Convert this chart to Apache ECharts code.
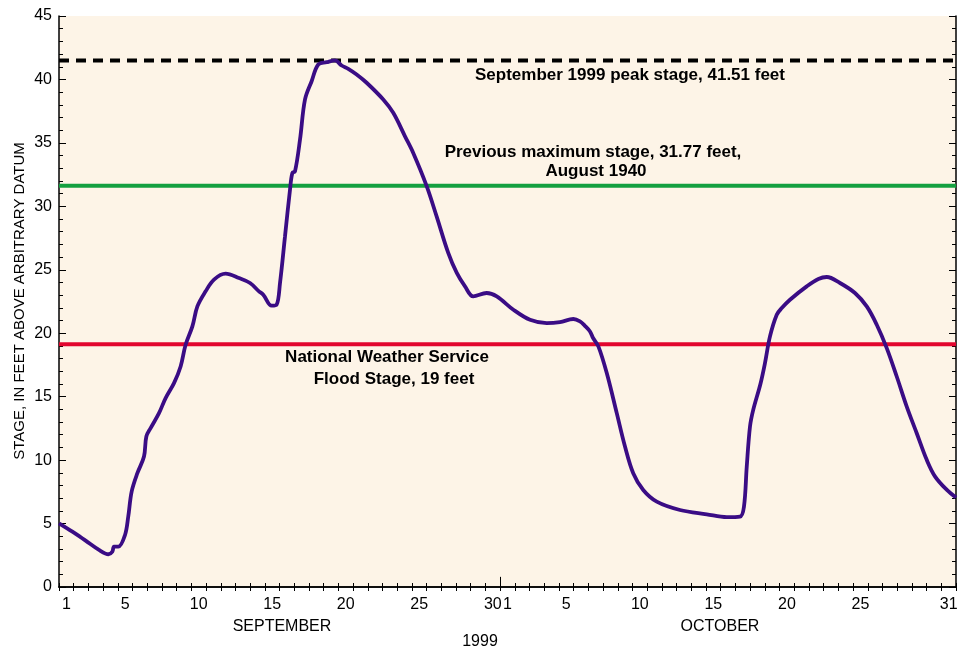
<!DOCTYPE html>
<html>
<head>
<meta charset="utf-8">
<script src="https://cdn.jsdelivr.net/npm/echarts@6/dist/echarts.min.js"></script>
<style>
html,body{margin:0;padding:0;background:#fff;}
#chart{width:964px;height:656px;}
</style>
</head>
<body>
<div id="chart"></div>
<script>
// Day labels (category axis), one per day, Sep 1 - Oct 31 1999
const dayLabels = [];
for (let d = 1; d <= 30; d++) dayLabels.push(String(d));
for (let d = 1; d <= 31; d++) dayLabels.push(String(d));
const shownLabelIdx = [0, 4, 9, 14, 19, 24, 29, 30, 34, 39, 44, 49, 54, 60];

// Time in days since start of Sep 1 (0 = Sep 1 00:00)
const tDays = [0, 0.91, 1.81, 2.72, 3.36, 3.63, 3.74, 4.04, 4.49, 4.71, 4.94, 5.33, 5.78, 5.94, 6.23, 6.80, 7.25, 7.82, 8.27, 8.61, 9.07, 9.41, 9.97, 10.54, 11.33, 12.24, 12.99, 13.60, 13.89, 14.46, 14.80, 15.03, 15.37, 15.71, 15.87, 16.05, 16.39, 16.73, 17.18, 17.63, 18.20, 18.77, 19.22, 19.67, 20.24, 20.92, 22.05, 22.73, 23.53, 24.09, 25.01, 25.68, 26.47, 27.05, 27.61, 28.17, 29.08, 29.77, 30.90, 32.03, 33.17, 34.07, 34.98, 35.43, 35.75, 36.11, 36.33, 36.68, 37.25, 37.93, 38.49, 39.05, 39.73, 40.65, 42.23, 44.05, 45.41, 46.31, 46.58, 46.77, 46.99, 47.21, 47.70, 48.01, 48.35, 48.81, 49.15, 49.71, 50.85, 51.64, 52.21, 53.11, 54.13, 54.93, 55.61, 56.29, 56.97, 57.65, 58.33, 59.01, 59.58, 60.38, 61.0];
// Stage, feet above arbitrary datum
const stage = [5.02, 4.36, 3.65, 2.92, 2.58, 2.79, 3.18, 3.18, 4.10, 5.55, 7.52, 8.97, 10.28, 11.86, 12.52, 13.70, 14.89, 16.07, 17.38, 19.09, 20.54, 22.11, 23.30, 24.22, 24.69, 24.35, 23.96, 23.30, 23.04, 22.17, 22.25, 23.96, 27.64, 31.32, 32.63, 32.76, 35.26, 38.42, 39.86, 41.18, 41.36, 41.50, 41.10, 40.84, 40.39, 39.74, 38.42, 37.37, 35.52, 34.21, 31.58, 29.21, 26.33, 24.75, 23.69, 22.90, 23.17, 22.90, 21.85, 21.06, 20.80, 20.88, 21.12, 20.93, 20.60, 20.14, 19.60, 18.96, 16.86, 13.70, 11.07, 8.97, 7.65, 6.73, 6.07, 5.73, 5.50, 5.55, 6.33, 9.49, 12.64, 13.96, 16.00, 17.65, 19.75, 21.46, 21.98, 22.64, 23.69, 24.27, 24.43, 23.96, 23.17, 22.11, 20.67, 18.83, 16.59, 14.22, 12.12, 10.02, 8.70, 7.65, 7.05];

// Reference stages
const peakStage = 41.5;
const prevMaxStage = 31.63;
const floodStage = 19.13;
const xRange = [0, 61];

const yTicks = { min: 0, max: 45, interval: 5 };
const yTitle = 'STAGE, IN FEET ABOVE ARBITRARY DATUM';

const FONT = '"Liberation Sans", Arial, sans-serif';
const curve = tDays.map((t, i) => [t, stage[i]]);
const hline = v => xRange.map(x => [x, v]);

const chart = echarts.init(document.getElementById('chart'), null, { renderer: 'canvas' });
const axisLine = { show: true, lineStyle: { color: '#000', width: 1.5 } };

chart.setOption({
  animation: false,
  backgroundColor: '#ffffff',
  grid: { left: 59, right: 8, top: 16, bottom: 69, outerBoundsMode: 'none', containLabel: false, show: true, backgroundColor: '#fdf4e7', borderWidth: 0 },
  xAxis: [
    {
      type: 'category', data: dayLabels, position: 'bottom', boundaryGap: true,
      axisLine: axisLine,
      axisTick: { show: true, inside: true, length: 4, interval: 0, lineStyle: { color: '#000', width: 1 } },
      axisLabel: {
        interval: (idx) => shownLabelIdx.indexOf(idx) >= 0,
        color: '#000', fontFamily: FONT, fontSize: 16, margin: 10
      },
      splitLine: { show: false }
    },
    {
      type: 'value', min: xRange[0], max: xRange[1], interval: 1, position: 'top',
      axisLine: axisLine,
      axisTick: { show: true, inside: true, length: 4, lineStyle: { color: '#000', width: 1 } },
      axisLabel: { show: false },
      splitLine: { show: false }
    }
  ],
  yAxis: [
    {
      type: 'value', position: 'left', min: yTicks.min, max: yTicks.max, interval: yTicks.interval,
      axisLine: axisLine,
      axisTick: { show: true, inside: true, length: 7, lineStyle: { color: '#000', width: 1 } },
      minorTick: { show: true, splitNumber: 5, length: 4, lineStyle: { color: '#000', width: 1 } },
      axisLabel: { color: '#000', fontFamily: FONT, fontSize: 16, margin: 7 },
      splitLine: { show: false }
    },
    {
      type: 'value', position: 'right', min: yTicks.min, max: yTicks.max, interval: yTicks.interval,
      axisLine: axisLine,
      axisTick: { show: true, inside: true, length: 7, lineStyle: { color: '#000', width: 1 } },
      minorTick: { show: true, splitNumber: 5, length: 4, lineStyle: { color: '#000', width: 1 } },
      axisLabel: { show: false },
      splitLine: { show: false }
    }
  ],
  series: [
    {
      type: 'line', xAxisIndex: 1, yAxisIndex: 0, data: hline(peakStage), symbol: 'none',
      lineStyle: { color: '#000', width: 4, type: [10, 7] }, z: 3
    },
    {
      type: 'line', xAxisIndex: 1, yAxisIndex: 0, data: hline(prevMaxStage), symbol: 'none',
      lineStyle: { color: '#14a040', width: 4 }, z: 3
    },
    {
      type: 'line', xAxisIndex: 1, yAxisIndex: 0, data: hline(floodStage), symbol: 'none',
      lineStyle: { color: '#e2062e', width: 4 }, z: 3
    },
    {
      type: 'line', xAxisIndex: 1, yAxisIndex: 0, data: curve, symbol: 'none',
      smooth: 0.35,
      lineStyle: { color: '#3a0c85', width: 3.8 }, z: 5,
      markLine: {
        silent: true, symbol: 'none', label: { show: false },
        lineStyle: { color: '#000', width: 1, type: 'solid' },
        data: [[{ coord: [30, 0] }, { coord: [30, 0.8] }]]
      }
    }
  ],
  graphic: [
    { type: 'text', x: 20, y: 301, rotation: Math.PI / 2, style: { text: yTitle, font: '15px ' + FONT, fill: '#000', textAlign: 'center', textVerticalAlign: 'middle' } },
    { type: 'text', x: 630, y: 75, style: { text: 'September 1999 peak stage, 41.51 feet', font: 'bold 17px ' + FONT, fill: '#000', textAlign: 'center', textVerticalAlign: 'middle' } },
    { type: 'text', x: 593, y: 152, style: { text: 'Previous maximum stage, 31.77 feet,', font: 'bold 17px ' + FONT, fill: '#000', textAlign: 'center', textVerticalAlign: 'middle' } },
    { type: 'text', x: 596, y: 171, style: { text: 'August 1940', font: 'bold 17px ' + FONT, fill: '#000', textAlign: 'center', textVerticalAlign: 'middle' } },
    { type: 'text', x: 387, y: 357, style: { text: 'National Weather Service', font: 'bold 17px ' + FONT, fill: '#000', textAlign: 'center', textVerticalAlign: 'middle' } },
    { type: 'text', x: 394, y: 379, style: { text: 'Flood Stage, 19 feet', font: 'bold 17px ' + FONT, fill: '#000', textAlign: 'center', textVerticalAlign: 'middle' } },
    { type: 'text', x: 282, y: 627, style: { text: 'SEPTEMBER', font: '16px ' + FONT, fill: '#000', textAlign: 'center', textVerticalAlign: 'middle' } },
    { type: 'text', x: 720, y: 627, style: { text: 'OCTOBER', font: '16px ' + FONT, fill: '#000', textAlign: 'center', textVerticalAlign: 'middle' } },
    { type: 'text', x: 480, y: 642, style: { text: '1999', font: '16px ' + FONT, fill: '#000', textAlign: 'center', textVerticalAlign: 'middle' } }
  ]
});
</script>
</body>
</html>
